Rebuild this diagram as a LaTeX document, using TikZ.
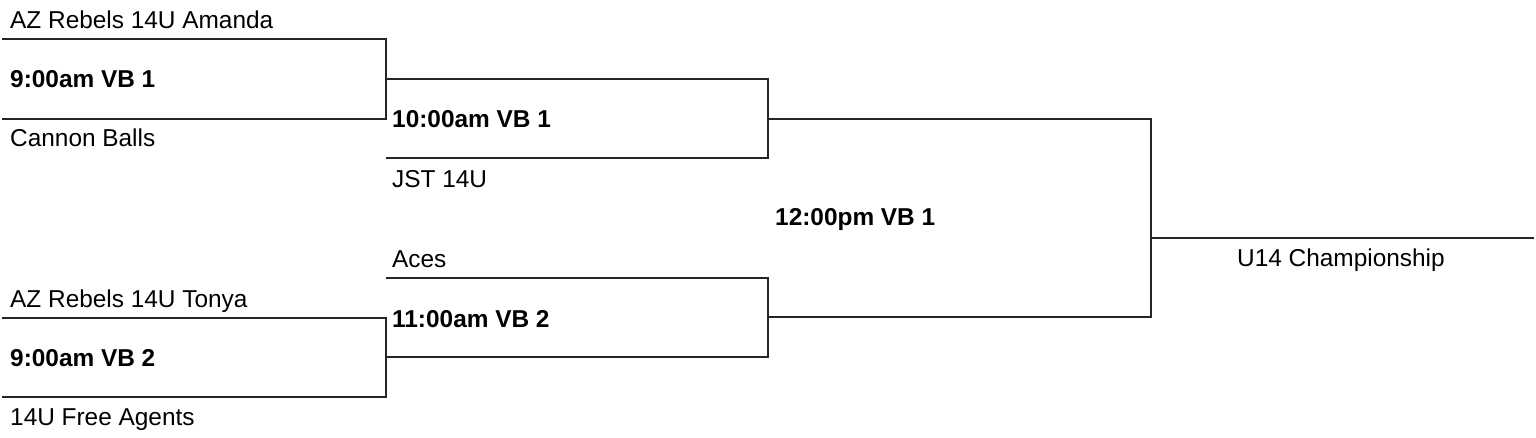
\documentclass[tikz,border=0pt]{standalone}
\usepackage{fontspec}
\setmainfont{Liberation Sans}
\begin{document}
\begin{tikzpicture}[x=1pt,y=-1pt,
  team/.style={anchor=base west,inner sep=0pt,font=\fontsize{24.4}{28}\selectfont},
  game/.style={anchor=base west,inner sep=0pt,font=\fontsize{24.4}{28}\selectfont\bfseries},
  br/.style={line width=1.6pt,black!85}]
\useasboundingbox (0,0) rectangle (1536,438);
% coordinates
\coordinate (a1) at (2,39);   \coordinate (a2) at (386,39);
\coordinate (b1) at (2,119);  \coordinate (b2) at (386,119);
\coordinate (c1) at (386,79); \coordinate (c2) at (768,79);
\coordinate (d1) at (386,158);\coordinate (d2) at (768,158);
\coordinate (e1) at (768,119);\coordinate (e2) at (1151,119);
\coordinate (f1) at (768,317);\coordinate (f2) at (1151,317);
\coordinate (g1) at (1151,238);\coordinate (g2) at (1534,238);
\coordinate (h1) at (386,278);\coordinate (h2) at (768,278);
\coordinate (i1) at (386,357);\coordinate (i2) at (768,357);
\coordinate (j1) at (2,318);  \coordinate (j2) at (386,318);
\coordinate (k1) at (2,397);  \coordinate (k2) at (386,397);
% bracket lines
\draw[br] (a1) -- (a2) -- (b2) -- (b1);
\draw[br] (c1) -- (c2) -- (d2) -- (d1);
\draw[br] (e1) -- (e2) -- (f2) -- (f1);
\draw[br] (g1) -- (g2);
\draw[br] (h1) -- (h2) -- (i2) -- (i1);
\draw[br] (j1) -- (j2) -- (k2) -- (k1);
% texts
\node[team] (t1) at (10,29) {AZ Rebels 14U Amanda};
\node[game] (g1t) at (10,88) {9:00am VB 1};
\node[team] (t2) at (10,147) {Cannon Balls};
\node[game] (g2t) at (392,128) {10:00am VB 1};
\node[team] (t3) at (392,188) {JST 14U};
\node[game] (g3t) at (775,226) {12:00pm VB 1};
\node[team] (t4) at (392,268) {Aces};
\node[team] (t5) at (10,307) {AZ Rebels 14U Tonya};
\node[game] (g4t) at (392,327) {11:00am VB 2};
\node[game] (g5t) at (10,366) {9:00am VB 2};
\node[team] (t6) at (10,425) {14U Free Agents};
\node[team] (ch) at (1237,267) {U14 Championship};
\end{tikzpicture}
\end{document}
